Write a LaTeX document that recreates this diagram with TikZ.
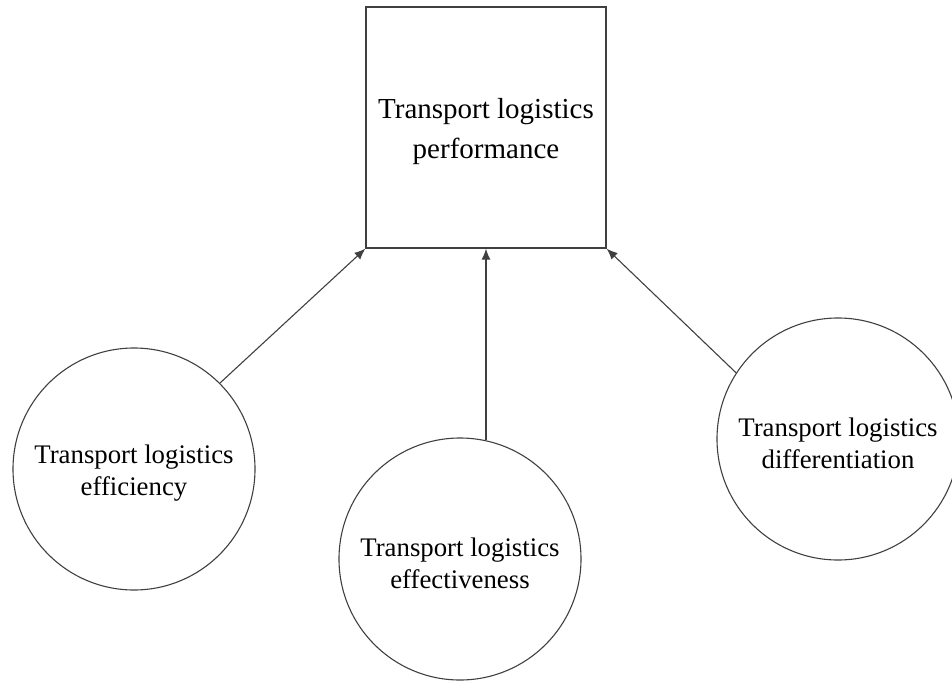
\documentclass[tikz,border=0pt]{standalone}
\usepackage{fontspec}
\setmainfont{Liberation Serif}
\usetikzlibrary{arrows.meta}
\definecolor{linegray}{HTML}{404040}
\begin{document}
\begin{tikzpicture}[x=1pt,y=-1pt,
  boxnode/.style={draw=linegray,line width=1.3pt,minimum width=240pt,minimum height=241pt,inner sep=0pt},
  circnode/.style={draw=linegray,line width=1.1pt,circle,minimum size=242pt,inner sep=0pt},
  boxtext/.style={align=center,yshift=-4pt,inner sep=0pt,font=\fontsize{29}{40}\selectfont},
  circtext/.style={align=center,yshift=-4pt,inner sep=0pt,font=\fontsize{26.8}{32}\selectfont},
  conn/.style={draw=linegray,line width=1.1pt,-{Latex[length=11pt,width=9pt]}}]
\useasboundingbox (0,0) rectangle (952,680);
\node[boxnode,label={[boxtext]center:Transport logistics\\performance}] (box) at (486,127.5) {};
\node[circnode,label={[circtext]center:Transport logistics\\efficiency}] (l) at (134,469) {};
\node[circnode,label={[circtext]center:Transport logistics\\effectiveness}] (m) at (460,559) {};
\node[circnode,label={[circtext]center:Transport logistics\\differentiation}] (r) at (838,439) {};
\draw[conn] (l.45) -- (box.south west);
\draw[conn] (box.south |- m.78) -- (box.south);
\draw[conn] (r.147) -- (box.south east);
\end{tikzpicture}
\end{document}
